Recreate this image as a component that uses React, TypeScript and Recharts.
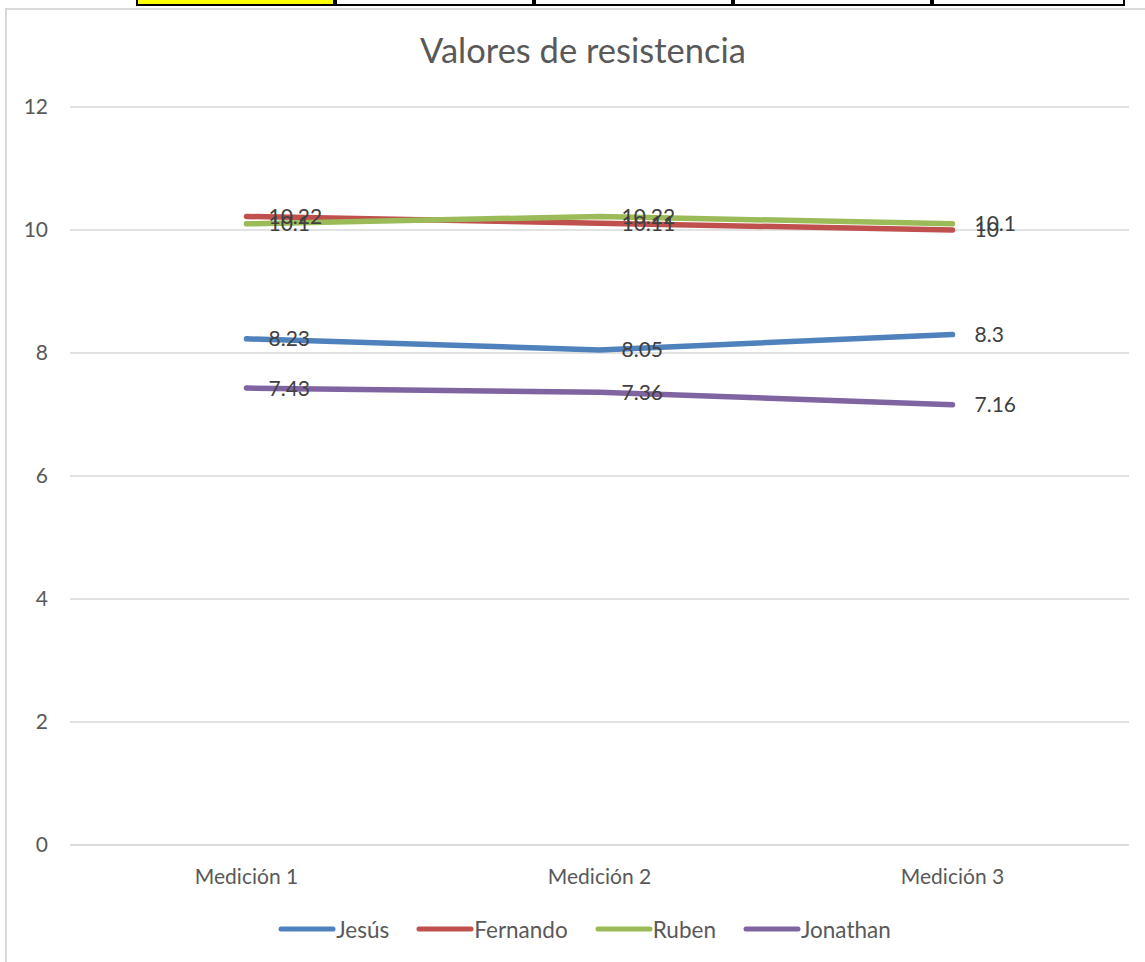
import React from "react";
import { LineChart, Line, XAxis, YAxis, CartesianGrid, Legend, LabelList } from "recharts";

const categories = ["Medición 1", "Medición 2", "Medición 3"];
const jesus = [8.23, 8.05, 8.3];
const fernando = [10.22, 10.11, 10];
const ruben = [10.1, 10.22, 10.1];
const jonathan = [7.43, 7.36, 7.16];
const yTicks = [0, 2, 4, 6, 8, 10, 12];

const seriesDefs = [
  { key: "Jesús", values: jesus, color: "#4f81bd" },
  { key: "Fernando", values: fernando, color: "#c0504d" },
  { key: "Ruben", values: ruben, color: "#9bbb59" },
  { key: "Jonathan", values: jonathan, color: "#8064a2" },
];

const data = categories.map((c, i) => {
  const row: Record<string, string | number> = { name: c };
  seriesDefs.forEach((s) => (row[s.key] = s.values[i]));
  return row;
});

const FONT = "Lato, 'Noto Sans', sans-serif";

const LegendContent = () => (
  <div style={{ display: "flex", justifyContent: "center", alignItems: "center", fontFamily: FONT, fontSize: 22.5, color: "#595959", height: 26, paddingLeft: 24 }}>
    {seriesDefs.map((s, i) => (
      <div key={s.key} style={{ display: "flex", alignItems: "center", marginLeft: i === 0 ? 0 : 27 }}>
        <svg width={58} height={10} style={{ display: "block" }}>
          <line x1={3} y1={5} x2={55} y2={5} stroke={s.color} strokeWidth={5} strokeLinecap="round" />
        </svg>
        <span>{s.key}</span>
      </div>
    ))}
  </div>
);

export default function App() {
  const cellXs = [136, 335, 534, 733, 932, 1125];
  return (
    <div style={{ position: "absolute", left: 0, top: 0, width: 1145, height: 962, overflow: "hidden", background: "#fff" }}>
      {cellXs.slice(0, -1).map((x, i) => (
        <div
          key={i}
          style={{
            position: "absolute",
            left: x,
            top: -2,
            width: cellXs[i + 1] - x,
            height: 8,
            boxSizing: "border-box",
            border: "2px solid #000",
            background: i === 0 ? "#ffff00" : "#fff",
          }}
        />
      ))}
      <div style={{ position: "absolute", left: 5, top: 8, width: 1160, height: 980, boxSizing: "border-box", border: "2px solid #d9d9d9" }} />
      <div style={{ position: "absolute", left: 0, top: 29, width: 1166, textAlign: "center", fontFamily: FONT, fontSize: 34.5, color: "#595959", lineHeight: "42px" }}>
        Valores de resistencia
      </div>
      <div style={{ position: "absolute", left: 0, top: 0 }}>
        <LineChart width={1145} height={962} data={data} margin={{ top: 107, right: 16, left: 10, bottom: 0 }}>
          <CartesianGrid vertical={false} stroke="#d9d9d9" strokeWidth={1.5} />
          <XAxis
            dataKey="name"
            axisLine={{ stroke: "#d9d9d9", strokeWidth: 1.5 }}
            tickLine={false}
            tickSize={0}
            tickMargin={24}
            height={91}
            padding={{ left: 176.5, right: 176.5 }}
            tick={{ fill: "#595959", fontSize: 21, fontFamily: FONT }}
          />
          <YAxis
            domain={[0, 12]}
            ticks={yTicks}
            axisLine={false}
            tickLine={false}
            tickSize={0}
            tickMargin={22}
            width={60}
            tick={{ fill: "#595959", fontSize: 21, fontFamily: FONT }}
          />
          <Legend verticalAlign="bottom" content={<LegendContent />} wrapperStyle={{ position: "absolute", top: 916, left: 0, width: 1145 }} />
          {seriesDefs.map((s) => (
            <Line
              key={s.key}
              type="linear"
              dataKey={s.key}
              stroke={s.color}
              strokeWidth={5.5}
              strokeLinecap="round"
              dot={false}
              activeDot={false}
              isAnimationActive={false}
            >
              <LabelList dataKey={s.key} position="right" offset={22} fill="#404040" fontSize={21} fontFamily={FONT} />
            </Line>
          ))}
        </LineChart>
      </div>
    </div>
  );
}
